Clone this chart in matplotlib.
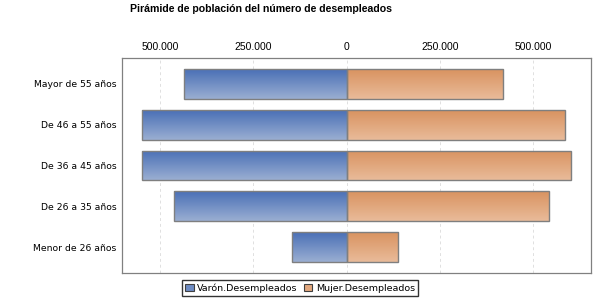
import numpy as np
import matplotlib
matplotlib.use("Agg")
import matplotlib.pyplot as plt
from matplotlib.colors import LinearSegmentedColormap
from matplotlib.ticker import FuncFormatter
from matplotlib.patches import Patch

categories = ["Mayor de 55 años", "De 46 a 55 años", "De 36 a 45 años",
              "De 26 a 35 años", "Menor de 26 años"]
varon = [437000, 548000, 548000, 464000, 147000]
mujer = [420000, 585000, 601000, 542000, 138000]
tick_values = [-500000, -250000, 0, 250000, 500000]
series_names = ["Varón.Desempleados", "Mujer.Desempleados"]

fig = plt.figure(figsize=(6, 3), dpi=100)
ax = fig.add_axes([122/600, 1-273/300, (591-122)/600, (273-58)/300])

y = np.arange(len(categories))
blue_cmap = LinearSegmentedColormap.from_list("b", ["#9aaed2", "#4a70b6"])
orange_cmap = LinearSegmentedColormap.from_list("o", ["#e9bb9a", "#d99360"])
grad = np.linspace(0, 1, 64).reshape(-1, 1)

ax.set_xlim(-603000, 656000)
ax.set_ylim(4.63, -0.63)

def grad_bars(vals, cmap):
    bars = ax.barh(y, vals, height=0.73, facecolor="none", edgecolor="#7f7f7f",
                   linewidth=1.0, zorder=3)
    for b in bars:
        x0, yb = b.get_x(), b.get_y()
        w, h = b.get_width(), b.get_height()
        im = ax.imshow(grad, cmap=cmap, aspect="auto", origin="lower",
                       extent=[min(x0, x0 + w), max(x0, x0 + w), yb + h, yb],
                       zorder=2, interpolation="bilinear")
        im.set_clip_path(b)
    return bars

grad_bars([-v for v in varon], blue_cmap)
grad_bars(mujer, orange_cmap)
ax.set_xlim(-603000, 656000)
ax.set_ylim(4.63, -0.63)

ax.set_xticks(tick_values)
ax.xaxis.set_major_formatter(FuncFormatter(lambda v, p: f"{abs(int(v)):,}".replace(",", ".")))
ax.xaxis.tick_top()
ax.tick_params(axis="x", length=0, pad=4, labelsize=7.5, labelcolor="#000000")
for lbl in ax.get_xticklabels():
    lbl.set_fontfamily("Liberation Sans")
ax.set_yticks(y)
ax.set_yticklabels(categories, fontsize=6.7, fontfamily="DejaVu Sans")
ax.tick_params(axis="y", length=0, pad=4)
ax.grid(axis="x", color="#e0e0e0", linestyle=(0, (3, 3)), linewidth=0.7, zorder=0)
ax.set_axisbelow(True)
for s in ax.spines.values():
    s.set_color("#808080")
    s.set_linewidth(0.9)

fig.text(261/600, 1-9/300, "Pirámide de población del número de desempleados",
         ha="center", va="center", fontsize=7.6, fontweight="bold",
         fontfamily="Liberation Sans")

handles = [Patch(facecolor="#6e8cc4", edgecolor="#404040", linewidth=0.8),
           Patch(facecolor="#e3a87e", edgecolor="#404040", linewidth=0.8)]
leg = fig.legend(handles, series_names, loc="center", bbox_to_anchor=(300/600, 1-288/300),
                 ncol=2, fontsize=6.8, frameon=True, fancybox=False,
                 handlelength=0.9, handleheight=0.9, handletextpad=0.4,
                 columnspacing=0.6, borderpad=0.3, borderaxespad=0)
leg.get_frame().set_edgecolor("#000000")
leg.get_frame().set_linewidth(1.0)

fig.savefig("out.png", dpi=100)
